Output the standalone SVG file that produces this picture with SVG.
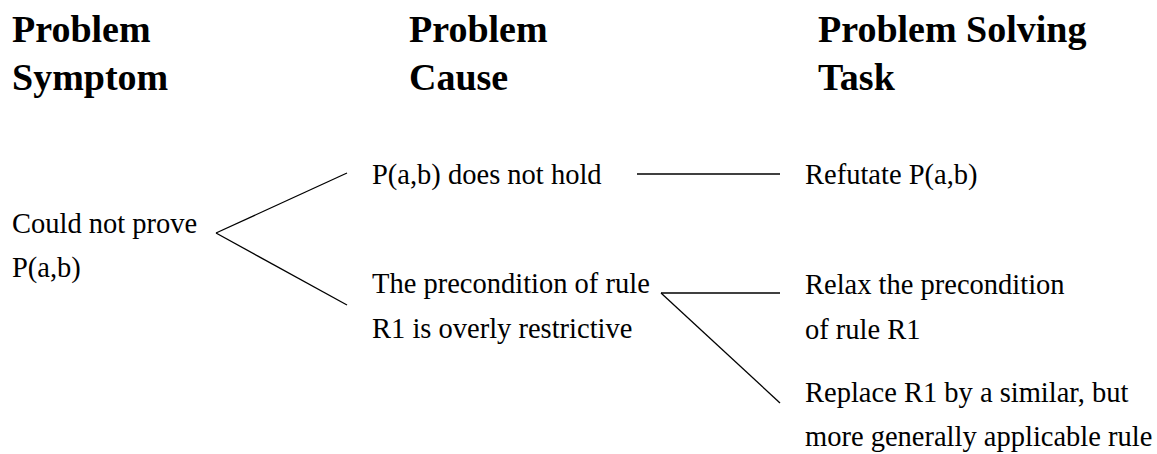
<svg xmlns="http://www.w3.org/2000/svg" width="1157" height="454" viewBox="0 0 1157 454">
<style>
.h{font-family:"Liberation Serif","Times New Roman",serif;font-weight:bold;font-size:38px;fill:#000}
.t{font-family:"Liberation Serif","Times New Roman",serif;font-size:28.5px;fill:#000}
.c line{stroke:#000;stroke-width:1.3;fill:none}
</style>
<rect width="1157" height="454" fill="#fff"/>
<g id="headers">
<text class="h" x="12" y="42">Problem</text>
<text class="h" x="12" y="90">Symptom</text>
<text class="h" x="409" y="42">Problem</text>
<text class="h" x="409" y="90">Cause</text>
<text class="h" x="818" y="42">Problem Solving</text>
<text class="h" x="818" y="90">Task</text>
</g>
<g id="symptom">
<text class="t" x="12" y="233">Could not prove</text>
<text class="t" x="12" y="277">P(a,b)</text>
</g>
<g id="cause1">
<text class="t" x="372" y="184">P(a,b) does not hold</text>
</g>
<g id="cause2">
<text class="t" x="372" y="293">The precondition of rule</text>
<text class="t" x="372" y="338">R1 is overly restrictive</text>
</g>
<g id="task1">
<text class="t" x="805" y="184">Refutate P(a,b)</text>
</g>
<g id="task2">
<text class="t" x="805" y="294">Relax the precondition</text>
<text class="t" x="805" y="339">of rule R1</text>
</g>
<g id="task3">
<text class="t" x="805" y="402">Replace R1 by a similar, but</text>
<text class="t" x="805" y="446">more generally applicable rule</text>
</g>
<g id="connectors" class="c">
<line x1="216" y1="233" x2="347" y2="173"/>
<line x1="216" y1="233" x2="347" y2="305"/>
<line x1="637" y1="174" x2="780" y2="174"/>
<line x1="661" y1="293" x2="780" y2="293"/>
<line x1="661" y1="293" x2="780" y2="403"/>
</g>
</svg>
